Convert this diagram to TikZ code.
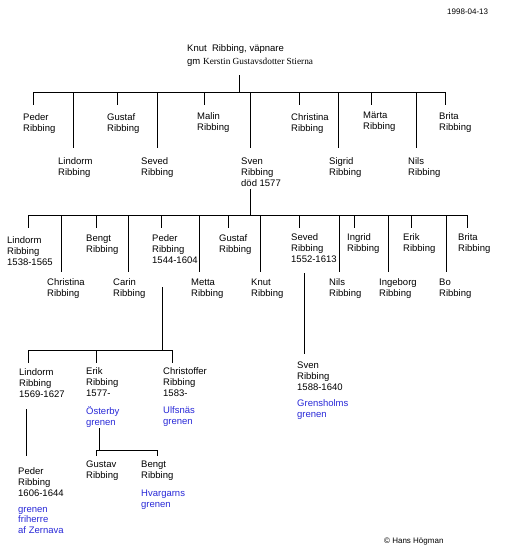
\documentclass[tikz,border=0pt]{standalone}
\usepackage{fontspec}
\setmainfont{Liberation Sans}
\newfontfamily\serifgm{Liberation Serif}
\definecolor{branch}{RGB}{40,40,215}
\begin{document}
\begin{tikzpicture}[x=1pt,y=-1pt,
  person/.style={anchor=north west, inner sep=0pt, align=left,
    font=\fontsize{9.5}{10.8}\selectfont, yshift=3.2pt,
    execute at begin node={\rule{0pt}{9pt}}},
  branchtxt/.style={person, text=branch},
  small/.style={person, font=\fontsize{8}{9.6}\selectfont},
  conn/.style={line width=1pt, line cap=rect}]
\useasboundingbox (0,0) rectangle (520,545);

% header
\node[small] (date) at (447,9) {1998-04-13};
\node[small] (copy) at (384,537) {\textcopyright\ Hans Högman};

% generation 1
\node[person] (knut) at (187,46) {Knut\ \ Ribbing, väpnare};
\node[person] (spouse) at (187,59) {gm\ {\serifgm\fontsize{9.3}{10}\selectfont Kerstin Gustavsdotter Stierna}};
\coordinate (knutdrop) at (239,76);
\coordinate (bus1) at (239,93);
\coordinate (bus1L) at (33,93);
\coordinate (bus1R) at (445,93);
\draw[conn] (knutdrop) -- (bus1);
\draw[conn] (bus1L) -- (bus1R);

% generation 2
\node[person] (peder1) at (23,117) {Peder\\Ribbing};
\node[person] (lindorm1) at (58,161) {Lindorm\\Ribbing};
\node[person] (gustaf1) at (107,117) {Gustaf\\Ribbing};
\node[person] (seved1) at (141,161) {Seved\\Ribbing};
\node[person] (malin1) at (197,116) {Malin\\Ribbing};
\node[person] (sven1) at (241,161) {Sven\\Ribbing\\död 1577};
\node[person] (christina1) at (291,117) {Christina\\Ribbing};
\node[person] (sigrid1) at (329,161) {Sigrid\\Ribbing};
\node[person] (marta1) at (363,115) {Märta\\Ribbing};
\node[person] (nils1) at (408,161) {Nils\\Ribbing};
\node[person] (brita1) at (439,116) {Brita\\Ribbing};
\foreach \n/\x/\yb in {tpeder1/33/105, tlindorm1/73/148, tgustaf1/117/105,
  tseved1/157/148, tmalin1/204/105, tsven1/250/148, tchristina1/299/105,
  tsigrid1/338/148, tmarta1/371/105, tnils1/416/148, tbrita1/445/105}
  {\coordinate (\n) at (\x,\yb); \draw[conn] (\n |- bus1) -- (\n);}

% generation 3
\coordinate (svendrop) at (250,190);
\coordinate (bus2) at (250,215);
\coordinate (bus2L) at (28,215);
\coordinate (bus2R) at (467,215);
\draw[conn] (svendrop) -- (bus2);
\draw[conn] (bus2L) -- (bus2R);
\node[person] (lindorm2) at (7,240) {Lindorm\\Ribbing\\1538-1565};
\node[person] (christina2) at (47,282) {Christina\\Ribbing};
\node[person] (bengt2) at (86,238) {Bengt\\Ribbing};
\node[person] (carin2) at (113,282) {Carin\\Ribbing};
\node[person] (peder2) at (152,238) {Peder\\Ribbing\\1544-1604};
\node[person] (metta2) at (191,282) {Metta\\Ribbing};
\node[person] (gustaf2) at (219,238) {Gustaf\\Ribbing};
\node[person] (knut2) at (251,282) {Knut\\Ribbing};
\node[person] (seved2) at (291,237) {Seved\\Ribbing\\1552-1613};
\node[person] (nils2) at (329,282) {Nils\\Ribbing};
\node[person] (ingrid2) at (347,237) {Ingrid\\Ribbing};
\node[person] (ingeborg2) at (379,282) {Ingeborg\\Ribbing};
\node[person] (erik2) at (403,237) {Erik\\Ribbing};
\node[person] (bo2) at (439,282) {Bo\\Ribbing};
\node[person] (brita2) at (458,237) {Brita\\Ribbing};
\foreach \n/\x/\yb in {tlindorm2/28/227, tchristina2/61/271, tbengt2/96/227,
  tcarin2/128/271, tpeder2/161/227, tmetta2/199/271, tgustaf2/228/227,
  tknut2/260/271, tseved2/299/227, tnils2/339/271, tingrid2/354/227,
  tingeborg2/388/271, terik2/411/227, tbo2/446/271, tbrita2/467/227}
  {\coordinate (\n) at (\x,\yb); \draw[conn] (\n |- bus2) -- (\n);}

% generation 4 (children of Peder 1544-1604)
\coordinate (pederdrop) at (162,287);
\coordinate (bus3) at (162,350);
\coordinate (bus3L) at (28,350);
\coordinate (bus3R) at (172,350);
\draw[conn] (pederdrop) -- (bus3);
\draw[conn] (bus3L) -- (bus3R);
\node[person] (lindorm3) at (19,372) {Lindorm\\Ribbing\\1569-1627};
\node[person] (erik3) at (86,371) {Erik\\Ribbing\\1577-};
\node[branchtxt] (osterby) at (86,410) {Österby\\grenen};
\node[person] (christoffer3) at (163,371) {Christoffer\\Ribbing\\1583-};
\node[branchtxt] (ulfsnas) at (163,410) {Ulfsnäs\\grenen};
\foreach \n/\x/\yb in {tlindorm3/28/362, terik3/96/362, tchristoffer3/172/362}
  {\coordinate (\n) at (\x,\yb); \draw[conn] (\n |- bus3) -- (\n);}

% child of Seved 1552-1613
\coordinate (seveddrop) at (304,273);
\coordinate (tsven3) at (304,353);
\draw[conn] (seveddrop) -- (tsven3);
\node[person] (sven3) at (297,365) {Sven\\Ribbing\\1588-1640};
\node[branchtxt] (grensholm) at (297,403) {Grensholms\\grenen};

% child of Lindorm 1569-1627
\coordinate (lindormdrop) at (26,409);
\coordinate (tpeder4) at (26,455);
\draw[conn] (lindormdrop) -- (tpeder4);
\node[person] (peder4) at (18,471) {Peder\\Ribbing\\1606-1644};
\node[branchtxt] (zernava) at (18,510) {grenen\\friherre\\af Zernava};

% children of Erik 1577-
\coordinate (erikdrop) at (99,428);
\coordinate (bus4) at (99,450);
\coordinate (bus4L) at (96,450);
\coordinate (bus4R) at (157,450);
\draw[conn] (erikdrop) -- (bus4);
\draw[conn] (bus4L) -- (bus4R);
\node[person] (gustav4) at (86,464) {Gustav\\Ribbing};
\node[person] (bengt4) at (141,464) {Bengt\\Ribbing};
\node[branchtxt] (hvargarn) at (141,493) {Hvargarns\\grenen};
\foreach \n/\x/\yb in {tgustav4/96/455, tbengt4/157/455}
  {\coordinate (\n) at (\x,\yb); \draw[conn] (\n |- bus4) -- (\n);}
\end{tikzpicture}
\end{document}
